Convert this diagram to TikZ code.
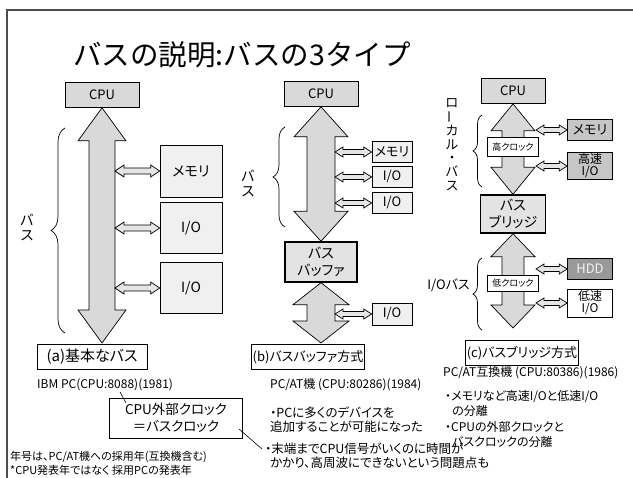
\documentclass[tikz,border=0pt]{standalone}
\usepackage{fontspec}
\setmainfont{Noto Sans CJK JP}[RawFeature=+palt]
\newfontfamily\titlefont{Noto Sans CJK JP}
\usetikzlibrary{positioning,calc,decorations.pathreplacing}

\tikzset{
  plainbox/.style={draw, line width=0.7pt, inner sep=1pt, align=center},
  cpubox/.style={plainbox, fill=gray!30, minimum width=74pt, minimum height=25pt, font=\fontsize{13}{15}\selectfont},
  devbox/.style={plainbox, fill=gray!12},
  hubbox/.style={plainbox, line width=1.4pt, fill=gray!22, font=\fontsize{14}{17}\selectfont},
  clockbox/.style={plainbox, fill=white, minimum width=51pt, font=\fontsize{9}{10}\selectfont},
  labelbox/.style={plainbox, fill=white, minimum height=25pt},
  notetext/.style={anchor=west, inner sep=0pt, font=\fontsize{12}{14}\selectfont},
  busbody/.style={draw, line width=0.7pt, fill=gray!30},
  busbrace/.style={decorate, decoration={brace, amplitude=#1}, line width=0.7pt},
  busbrace/.default=10pt,
  vertlabel/.style={align=center, inner sep=0pt, font=\fontsize{14}{15}\selectfont},
}

% fat double arrow, top tip #1 to bottom tip #2
\newcommand{\vbus}[5]{%
  \draw[busbody] let \p1=(#1), \p2=(#2) in
    (\x1,\y1) -- (\x1+#3,\y1-#5) -- (\x1+#4,\y1-#5) -- (\x1+#4,\y2+#5)
    -- (\x1+#3,\y2+#5) -- (\x1,\y2) -- (\x1-#3,\y2+#5) -- (\x1-#4,\y2+#5)
    -- (\x1-#4,\y1-#5) -- (\x1-#3,\y1-#5) -- cycle;}
% small double arrow, left tip #1 to right tip #2
\newcommand{\hbus}[5]{%
  \draw[busbody, fill=gray!20] let \p1=(#1), \p2=(#2) in
    (\x1,\y1) -- (\x1+#5,\y1+#3) -- (\x1+#5,\y1+#4) -- (\x2-#5,\y1+#4)
    -- (\x2-#5,\y1+#3) -- (\x2,\y1) -- (\x2-#5,\y1-#3) -- (\x2-#5,\y1-#4)
    -- (\x1+#5,\y1-#4) -- (\x1+#5,\y1-#3) -- cycle;}

\begin{document}
\begin{tikzpicture}[x=1pt, y=-1pt]
  \useasboundingbox (0,0) rectangle (633,478);
  \draw[line width=1.3pt, gray!60!black] (7,478) -- (7,10) -- (633,10);
  \node[font=\titlefont\fontsize{28.5}{32}\selectfont] (title) at (242,55) {バスの説明:バスの3タイプ};

  % (a)
  \node[cpubox] (cpuA) at (102,95) {CPU};
  \coordinate (endA) at (102,343);
  \coordinate (tapA) at (115,0);
  \vbus{cpuA.south}{endA}{24pt}{13pt}{33pt}
  \node[devbox, minimum width=62pt, minimum height=52pt, font=\fontsize{14}{16}\selectfont] (memA) at (191,171) {メモリ};
  \node[devbox, minimum width=62pt, minimum height=51pt, font=\fontsize{14}{16}\selectfont] (ioA1) at (191,228) {I/O};
  \node[devbox, minimum width=62pt, minimum height=51pt, font=\fontsize{14}{16}\selectfont] (ioA2) at (191,288) {I/O};
  \foreach \b in {memA,ioA1,ioA2}
    \hbus{\b.west -| tapA}{\b.west}{6pt}{3pt}{9pt};
  \draw[busbrace=14pt] (65,333) -- (65,128);
  \node[vertlabel] (busA) at (27,227) {バ\\ス};
  \node[labelbox, minimum width=110pt, font=\fontsize{15}{17}\selectfont] (capA) at (92,357) {(a)基本なバス};
  \node[notetext] (pcA) at (37,385) {IBM PC(CPU:8088)(1981)};
  \node[plainbox, fill=white, minimum width=133pt, minimum height=40pt, font=\fontsize{13.5}{17}\selectfont] (clk) at (176,418) {CPU外部クロック\\＝バスクロック};
  \coordinate (clkIn1) at (126,403);
  \coordinate (clkOut1) at (120,392);
  \coordinate (clkIn2) at (239,429);
  \coordinate (clkOut2) at (262,449);
  \draw[line width=0.6pt] (clkIn1) -- (clkOut1);
  \draw[line width=0.6pt] (clkIn2) -- (clkOut2);
  \node[notetext, font=\fontsize{11}{13}\selectfont] (yearA) at (10,457) {年号は、PC/AT機への採用年(互換機含む)};
  \node[notetext, font=\fontsize{11}{13}\selectfont] (yearB) at (10,470) {*CPU発表年ではなく 採用PCの発表年};

  % (b)
  \node[cpubox] (cpuB) at (321,94) {CPU};
  \node[hubbox, minimum width=72pt, minimum height=40pt] (bufB) at (321,262) {バス\\バッファ};
  \coordinate (endB) at (321,343);
  \coordinate (tapB) at (335,0);
  \vbus{cpuB.south}{bufB.north}{27pt}{14pt}{30pt}
  \vbus{bufB.south}{endB}{28pt}{14pt}{22pt}
  \node[devbox, minimum width=40pt, minimum height=21pt, font=\fontsize{13}{15}\selectfont] (memB) at (392,152) {メモリ};
  \node[devbox, minimum width=40pt, minimum height=21pt, font=\fontsize{13}{15}\selectfont] (ioB1) at (392,177) {I/O};
  \node[devbox, minimum width=40pt, minimum height=21pt, font=\fontsize{13}{15}\selectfont] (ioB2) at (392,203) {I/O};
  \node[devbox, minimum width=40pt, minimum height=22pt, font=\fontsize{13}{15}\selectfont] (ioB3) at (392,314) {I/O};
  \foreach \b in {memB,ioB1,ioB2,ioB3}
    \hbus{\b.west -| tapB}{\b.west}{5pt}{2.5pt}{8pt};
  \draw[busbrace=12pt] (285,227) -- (285,127);
  \node[vertlabel] (busB) at (248,183) {バ\\ス};
  \node[labelbox, minimum width=98pt, font=\fontsize{13}{15}\selectfont] (capB) at (308,357) {(b)バスバッファ方式};
  \node[notetext] (pcB) at (270,385) {PC/AT機 (CPU:80286)(1984)};
  \node[notetext, font=\fontsize{12.5}{14}\selectfont] (noteB1) at (270,413) {・PCに多くのデバイスを};
  \node[notetext, font=\fontsize{12.5}{14}\selectfont] (noteB2) at (270,427) {追加することが可能になった};
  \node[notetext, font=\fontsize{12.5}{14}\selectfont] (noteB3) at (265,449) {・末端までCPU信号がいくのに時間が};
  \node[notetext, font=\fontsize{12.5}{14}\selectfont] (noteB4) at (270,463) {かかり、高周波にできないという問題点も};

  % (c)
  \node[cpubox, minimum width=64pt] (cpuC) at (513,91) {CPU};
  \node[hubbox, minimum width=65pt, minimum height=38pt] (bridgeC) at (513,214) {バス\\ブリッジ};
  \coordinate (endC) at (513,328);
  \coordinate (tapC) at (536,0);
  \vbus{cpuC.south}{bridgeC.north}{22pt}{11pt}{27pt}
  \vbus{bridgeC.south}{endC}{22pt}{11pt}{23pt}
  \node[clockbox, minimum height=19pt] (hiclk) at (513,147) {高クロック};
  \node[clockbox, minimum height=16pt] (loclk) at (513,283) {低クロック};
  \node[devbox, fill=gray!45, minimum width=45pt, minimum height=21pt, font=\fontsize{13}{15}\selectfont] (memC) at (590,130) {メモリ};
  \node[devbox, fill=gray!45, minimum width=45pt, minimum height=27pt, font=\fontsize{12}{12}\selectfont] (hsioC) at (590,166) {高速\\I/O};
  \node[devbox, fill=gray!80, text=gray!10, minimum width=45pt, minimum height=21pt, font=\fontsize{13}{15}\selectfont] (hddC) at (590,269) {HDD};
  \node[devbox, fill=white, minimum width=45pt, minimum height=28pt, font=\fontsize{12}{12}\selectfont] (lsioC) at (590,303) {低速\\I/O};
  \foreach \b in {memC,hsioC,hddC,lsioC}
    \hbus{\b.west -| tapC}{\b.west}{5pt}{2.5pt}{8pt};
  \draw[busbrace=9pt] (482,187) -- (482,115);
  \node[vertlabel, font=\fontsize{13}{13.6}\selectfont] (localTop) at (452,103) {ロ};
  \node[vertlabel, rotate=90, font=\fontsize{13}{13.6}\selectfont] (localBar) at (452,117) {ー};
  \node[vertlabel, font=\fontsize{13}{13.6}\selectfont] (localC) at (452,158) {カ\\ル\\・\\バ\\ス};
  \draw[busbrace=9pt] (482,330) -- (482,258);
  \node[notetext, anchor=east, font=\fontsize{13}{15}\selectfont] (iobusC) at (470,285) {I/Oバス};
  \node[labelbox, minimum width=105pt, font=\fontsize{13}{15}\selectfont] (capC) at (522,353) {(c)バスブリッジ方式};
  \node[notetext] (pcC) at (443,373) {PC/AT互換機 (CPU:80386)(1986)};
  \node[notetext] (noteC1) at (445,397) {・メモリなど高速I/Oと低速I/O};
  \node[notetext] (noteC2) at (452,411) {の分離};
  \node[notetext] (noteC3) at (445,427) {・CPUの外部クロックと};
  \node[notetext] (noteC4) at (452,442) {バスクロックの分離};
\end{tikzpicture}
\end{document}
